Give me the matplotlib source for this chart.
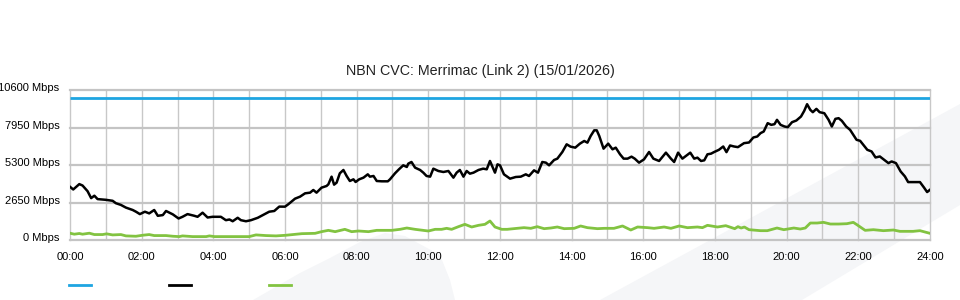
import matplotlib
matplotlib.use("Agg")
import matplotlib.pyplot as plt
from matplotlib.patches import Polygon
from matplotlib.lines import Line2D
from matplotlib.transforms import ScaledTranslation

plt.rcParams['font.family'] = ['Liberation Sans', 'DejaVu Sans']

title = "NBN CVC: Merrimac (Link 2) (15/01/2026)"

# capacity (blue)
cap_t = [0, 24]
cap_v = [10000, 10000]

# traffic (black), hours / Mbps
black_t = [0.00, 0.09, 0.26, 0.35, 0.49, 0.59, 0.68, 0.77, 1.00, 1.19, 1.28, 1.42, 1.56, 1.75, 1.84, 1.95,
           2.09, 2.21, 2.35, 2.45, 2.59, 2.68, 2.87, 3.03, 3.14, 3.28, 3.47, 3.56, 3.70, 3.84, 3.98,
           4.21, 4.35, 4.45, 4.54, 4.68, 4.77, 4.91, 5.05, 5.24, 5.42, 5.56, 5.70, 5.84,
           6.00, 6.09, 6.28, 6.42, 6.56, 6.70, 6.79, 6.88, 7.02, 7.16, 7.21, 7.30, 7.37, 7.44, 7.53, 7.63,
           7.72, 7.81, 7.91, 7.97, 8.07, 8.19, 8.31, 8.37, 8.47, 8.56, 8.70, 8.87, 8.93, 9.07, 9.18, 9.30,
           9.40, 9.44, 9.53, 9.63, 9.77, 9.86, 9.95, 10.05, 10.14, 10.28, 10.42, 10.56, 10.70, 10.79,
           10.88, 10.98, 11.07, 11.16, 11.26, 11.40, 11.53, 11.63, 11.72, 11.86, 11.93,
           12.00, 12.11, 12.28, 12.44, 12.58, 12.72, 12.81, 12.95, 13.06, 13.18, 13.28, 13.37, 13.51,
           13.60, 13.74, 13.86, 13.97, 14.10, 14.23, 14.35, 14.44, 14.53, 14.63, 14.70, 14.77, 14.89,
           15.02, 15.14, 15.23, 15.35, 15.45, 15.56, 15.67, 15.76, 15.88, 16.02, 16.16, 16.28, 16.44,
           16.63, 16.77, 16.86, 16.97, 17.09, 17.31, 17.42, 17.51, 17.61, 17.70, 17.79, 17.89, 17.97,
           18.11, 18.23, 18.32, 18.42, 18.53, 18.64, 18.81, 18.95, 19.07, 19.18, 19.27, 19.36, 19.47,
           19.57, 19.66, 19.73, 19.83, 19.94, 20.03, 20.15, 20.27, 20.40, 20.49, 20.57, 20.66, 20.73,
           20.83, 20.92, 21.05, 21.17, 21.26, 21.36, 21.45, 21.54, 21.66, 21.77, 21.86, 21.95, 22.05,
           22.14, 22.25, 22.37, 22.48, 22.60, 22.72, 22.84, 22.93, 23.05, 23.18, 23.30, 23.39, 23.53,
           23.72, 23.83, 23.92, 24.00]
black_v = [3760, 3570, 3950, 3850, 3450, 2960, 3130, 2890, 2840, 2770, 2600, 2480, 2290, 2120, 2000, 1830,
           2000, 1880, 2120, 1710, 1760, 2050, 1810, 1520, 1640, 1830, 1710, 1640, 1930, 1590, 1640,
           1640, 1400, 1450, 1325, 1570, 1400, 1325, 1400, 1570, 1810, 2000, 2050, 2360,
           2356, 2521, 2921, 3063, 3298, 3345, 3534, 3345, 3699, 3817, 3934, 4476, 3911, 4052, 4712, 4948,
           4524, 4170, 4288, 4099, 4288, 4406, 4641, 4476, 4524, 4170, 4147, 4147, 4288, 4712, 4995, 5277,
           5160, 5395, 5513, 5113, 4948, 4759, 4524, 4476, 5042, 4877, 4806, 4877, 4406, 4759,
           4948, 4476, 4877, 4688, 4759, 4948, 5042, 4995, 5584, 4759, 5348,
           5277, 4641, 4335, 4453, 4476, 4641, 4524, 4924, 4759, 5513, 5466, 5277, 5654,
           5749, 6220, 6762, 6597, 6526, 6809, 6997, 6880, 7351, 7751, 7751, 7351, 6455,
           6809, 6408, 6526, 6055, 5749, 5749, 5890, 5749, 5466, 5702, 6220, 5749, 5584,
           6173, 5749, 5513, 6173, 5749, 6173, 5749, 5819, 5584, 5631, 6055, 6102, 6209,
           6374, 6609, 6209, 6680, 6609, 6562, 6844, 6891, 7244, 7315, 7550, 7668, 8256,
           8138, 8185, 8491, 8138, 8020, 7973, 8326, 8444, 8726, 9126, 9596, 9196, 9032,
           9267, 9032, 8961, 8491, 8020, 8561, 8608, 8420, 8020, 7785, 7432, 7080, 7009,
           6727, 6374, 6256, 5833, 5903, 5668, 5433, 5551, 5433, 4845, 4492, 4092, 4092,
           4092, 3716, 3387, 3551]

# green series
green_t = [0.00, 0.12, 0.26, 0.35, 0.54, 0.68, 0.91, 1.02, 1.19, 1.42, 1.56, 1.84, 2.03, 2.21, 2.35,
           2.68, 2.87, 3.05, 3.14, 3.42, 3.80, 3.89, 4.03, 5.00, 5.19, 5.47, 5.75, 6.00,
           6.19, 6.47, 6.84, 7.02, 7.21, 7.40, 7.67, 7.86, 8.05, 8.33, 8.56, 8.98, 9.21, 9.40, 9.63,
           10.00, 10.19, 10.37, 10.51, 10.65, 10.84, 11.02, 11.21, 11.40, 11.58, 11.72, 11.86, 12.05,
           12.20, 12.48, 12.67, 12.86, 13.04, 13.23, 13.42, 13.60, 13.79, 14.07, 14.25, 14.44, 14.72,
           14.91, 15.18, 15.42, 15.65, 15.84, 16.12, 16.30, 16.58, 16.77, 17.00, 17.23, 17.51, 17.65,
           17.79, 18.07, 18.30, 18.44, 18.55, 18.64, 18.73, 18.82, 18.95, 19.27, 19.46, 19.73, 19.92,
           20.20, 20.38, 20.52, 20.66, 20.85, 21.03, 21.22, 21.45, 21.68, 21.86, 21.96, 22.19, 22.42,
           22.70, 22.98, 23.16, 23.53, 23.72, 24.00]
green_v = [480, 410, 460, 410, 480, 385, 385, 435, 360, 385, 290, 265, 337, 385, 313,
           313, 265, 240, 290, 240, 240, 290, 240, 240, 360, 313, 290, 330,
           377, 448, 471, 589, 683, 589, 754, 589, 636, 589, 683, 683, 754, 848, 754,
           636, 754, 754, 825, 754, 942, 1107, 919, 1037, 1107, 1343, 919, 754,
           754, 825, 872, 825, 942, 801, 848, 919, 801, 825, 990, 872, 801,
           825, 825, 990, 707, 919, 872, 825, 919, 825, 990, 872, 919, 872,
           1037, 919, 1011, 894, 800, 941, 847, 917, 729, 659, 659, 847, 729,
           847, 776, 847, 1200, 1200, 1247, 1129, 1129, 1152, 1247, 1082, 682, 729,
           659, 706, 612, 612, 659, 470]

y_ticks = [0, 2650, 5300, 7950, 10600]
y_labels = ["0 Mbps", "2650 Mbps", "5300 Mbps", "7950 Mbps", "10600 Mbps"]
x_ticks = [0, 2, 4, 6, 8, 10, 12, 14, 16, 18, 20, 22, 24]
x_labels = ["00:00", "02:00", "04:00", "06:00", "08:00", "10:00", "12:00",
            "14:00", "16:00", "18:00", "20:00", "22:00", "24:00"]

BLUE = '#1ea5e1'
BLACK = '#000000'
GREEN = '#82c341'

W, H = 960, 300
fig = plt.figure(figsize=(9.6, 3.0), dpi=100)
fig.patch.set_facecolor('white')

def fp(pts):
    return [(x / W, 1 - y / H) for x, y in pts]

# background watermark shapes
wm = '#f5f6f8'
fig.patches.append(Polygon(fp([(253, 300), (300, 273), (330, 258), (360, 242), (385, 233), (405, 236),
                               (440, 255), (450, 280), (455, 300)]),
                           closed=True, transform=fig.transFigure, facecolor=wm, edgecolor='none', zorder=0))
fig.patches.append(Polygon(fp([(600, 300), (960, 104), (960, 205), (802, 300)]),
                           closed=True, transform=fig.transFigure, facecolor=wm, edgecolor='none', zorder=0))

ax = fig.add_axes([70 / W, 1 - 240 / H, 860 / W, 150 / H])
ax.set_facecolor('none')
ax.set_zorder(2)

ax.plot(cap_t, cap_v, color=BLUE, lw=2.0, zorder=3, solid_capstyle='butt')
ax.plot(green_t, green_v, color=GREEN, lw=2.0, zorder=3)
ax.plot(black_t, black_v, color=BLACK, lw=1.8, zorder=4)

ax.set_xlim(0, 24)
ax.set_ylim(0, 10600)
ax.set_xticks(x_ticks)
ax.set_xticklabels(x_labels)
ax.set_xticks(range(0, 25), minor=True)
ax.set_yticks(y_ticks)
ax.set_yticklabels(y_labels)

ax.grid(True, which='major', axis='y', color='#c4c4c4', lw=1.6)
ax.grid(True, which='both', axis='x', color='#c8c8c8', lw=1.0)
for s in ax.spines.values():
    s.set_visible(False)
ax.tick_params(axis='both', which='both', length=0, labelsize=8, colors='#000000')
ax.tick_params(axis='y', pad=7.5)
ax.tick_params(axis='x', pad=8.5)
for lab in ax.get_yticklabels():
    lab.set_transform(lab.get_transform() + ScaledTranslation(0, 2 / 72, fig.dpi_scale_trans))
for gl in ax.get_xgridlines() + ax.get_ygridlines():
    gl.set_clip_on(False)

fig.text(0.5, 1 - 71 / H, title, ha='center', va='center', fontsize=10.25, color='#222222')

# legend keys (no text)
for x0, c in [(69, BLUE), (169, BLACK), (269, GREEN)]:
    fig.add_artist(Line2D([x0 / W, (x0 + 22) / W], [1 - 285 / H, 1 - 285 / H],
                          transform=fig.transFigure, color=c, lw=2.0))

fig.savefig('out.png', dpi=100)
